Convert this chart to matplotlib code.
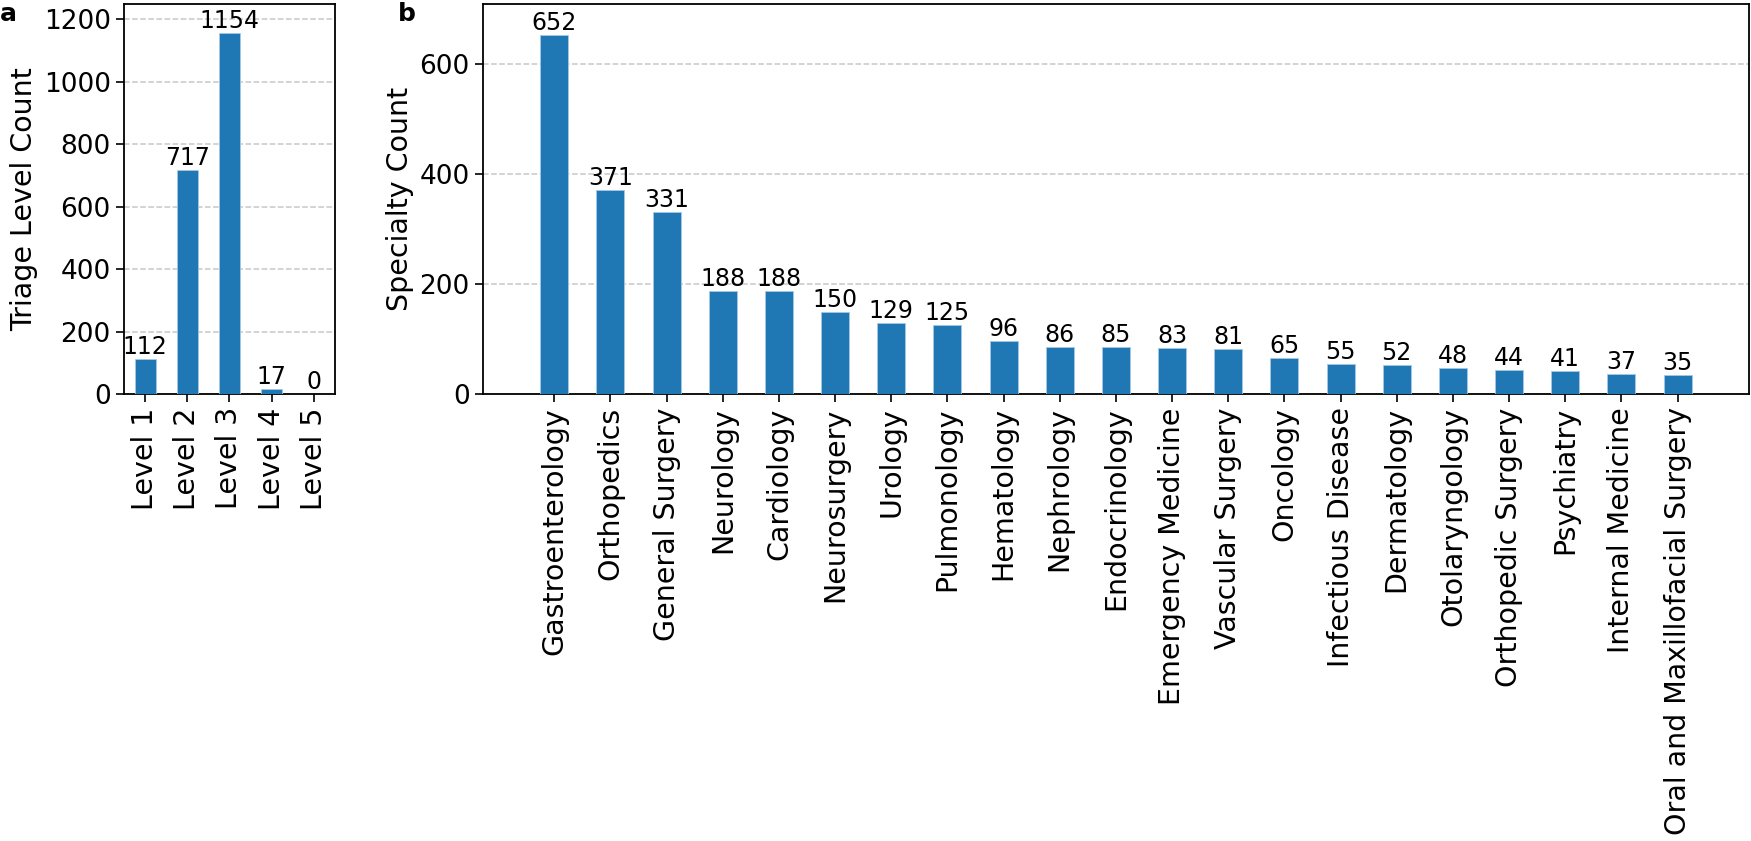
import numpy as np
import matplotlib
matplotlib.use('Agg')
import matplotlib.pyplot as plt

# Data
triage_levels = ['Level 1', 'Level 2', 'Level 3', 'Level 4', 'Level 5']
triage_counts = [112, 717, 1154, 17, 0]

specialties = ['Gastroenterology', 'Orthopedics', 'General Surgery', 'Neurology',
               'Cardiology', 'Neurosurgery', 'Urology', 'Pulmonology', 'Hematology',
               'Nephrology', 'Endocrinology', 'Emergency Medicine', 'Vascular Surgery',
               'Oncology', 'Infectious Disease', 'Dermatology', 'Otolaryngology',
               'Orthopedic Surgery', 'Psychiatry', 'Internal Medicine',
               'Oral and Maxillofacial Surgery']
specialty_counts = [652, 371, 331, 188, 188, 150, 129, 125, 96, 86, 85, 83, 81,
                    65, 55, 52, 48, 44, 41, 37, 35]

BAR_COLOR = '#1f77b4'
XTICK_FS = 20.5
YTICK_FS = 19
LABEL_FS = 20.5
ANNOT_FS = 17


def draw_bars(ax, labels, counts, ylim_top):
    '''
    Bar chart with count labels on top
    '''
    x = np.arange(len(labels))
    bars = ax.bar(x, counts, width=0.5, color=BAR_COLOR, edgecolor='#a6c8e6',
                  linewidth=0.6, zorder=3)
    for b, c in zip(bars, counts):
        ax.text(b.get_x() + b.get_width() / 2, c, str(c), ha='center', va='bottom',
                fontsize=ANNOT_FS)
    ax.set_xticks(x)
    ax.set_xticklabels(labels, rotation=90, fontsize=XTICK_FS)
    ax.tick_params(axis='y', labelsize=YTICK_FS)
    ax.tick_params(axis='both', length=6, width=1.2)
    ax.set_ylim(0, ylim_top)
    ax.yaxis.grid(True, linestyle='--', color='#c8c8c8', linewidth=1.1, zorder=0)
    ax.set_axisbelow(True)
    for s in ax.spines.values():
        s.set_linewidth(1.3)


fig = plt.figure(figsize=(17.51, 8.41), dpi=100)

ax_a = fig.add_axes([0.0708, 0.5315, 0.1205, 0.4637])
draw_bars(ax_a, triage_levels, triage_counts, 1248)
ax_a.set_xlim(-0.5, len(triage_levels) - 0.5)
ax_a.set_yticks([0, 200, 400, 600, 800, 1000, 1200])
ax_a.set_ylabel('Triage Level Count', fontsize=LABEL_FS)

ax_b = fig.add_axes([0.2758, 0.5315, 0.7230, 0.4637])
draw_bars(ax_b, specialties, specialty_counts, 709)
ax_b.set_xlim(-1.27, len(specialties) - 1 + 1.27)
ax_b.set_yticks([0, 200, 400, 600])
ax_b.set_ylabel('Specialty Count', fontsize=LABEL_FS)

# Panel letters
fig.text(0.0, 0.9975, 'a', fontsize=18, fontweight='bold', va='top', ha='left')
fig.text(0.2275, 0.9975, 'b', fontsize=18, fontweight='bold', va='top', ha='left')

fig.savefig('out.png', dpi=100)
